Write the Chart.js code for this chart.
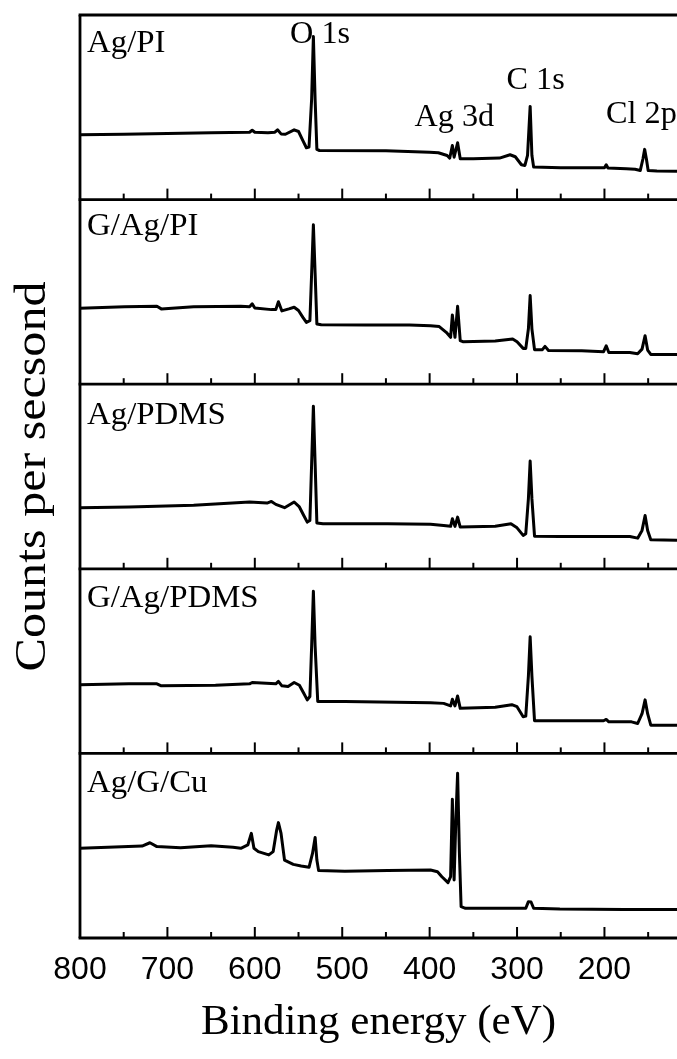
<!DOCTYPE html>
<html>
<head>
<meta charset="utf-8">
<title>XPS survey spectra</title>
<script src="https://cdn.jsdelivr.net/npm/chart.js@4.4.0/dist/chart.umd.min.js"></script>
<style>
  html, body { margin: 0; padding: 0; background: #fff; }
  #wrap { position: relative; width: 677px; height: 1059px; }
</style>
</head>
<body>
<div id="wrap"><canvas id="xpsChart" width="677" height="1059"></canvas></div>
<script>
// panels from top to bottom
const panelNames = ['Ag/PI', 'G/Ag/PI', 'Ag/PDMS', 'G/Ag/PDMS', 'Ag/G/Cu'];
const panelLabelLevels = [80, 80.6, 78.7, 79.2, 79.2];

// x axis (binding energy, eV)
const tickLabels = [800, 700, 600, 500, 400, 300, 200];
const minorTicks = [750, 650, 550, 450, 350, 250, 150];

// peak assignments written in the top panel
const peakNames = ['O 1s', 'Ag 3d', 'C 1s', 'Cl 2p'];
const peakNameEnergy = [559.7, 417.3, 312, 198.2];
const peakNameLevel = [85, 39.8, 60, 41.4];

// spectra, counts in panel units (0 = panel bottom, 100 = panel top)
const agPiEnergy = [800, 750, 700, 650, 606, 603, 600, 585, 577, 574, 570, 565, 555, 550, 545, 541, 538, 535, 533, 531, 529, 526, 450, 400, 390, 380, 377, 374, 372, 368, 365, 350, 320, 308, 302, 295, 291, 288, 285, 283, 281, 250, 200, 198, 196, 175, 165, 159, 156, 154, 152, 150, 140, 117];
const agPiCounts = [35.1, 35.4, 35.8, 36.2, 36.5, 37.6, 36.5, 36.2, 36.5, 37.8, 35.6, 35.4, 37.8, 36.9, 32, 28.1, 28.5, 54.5, 88.3, 54, 27.2, 26.6, 26.4, 25.7, 25.4, 23.9, 22.5, 29.3, 23, 30.8, 22.1, 22.1, 22.5, 24.3, 23.2, 18.9, 18.5, 24, 50.5, 24, 17.6, 17.3, 17.3, 18.9, 17.1, 16.7, 16.4, 15.8, 22, 27.2, 22, 15.8, 15.5, 15.3];

const gAgPiEnergy = [800, 749, 712, 707, 670, 616, 606, 603, 600, 581, 576, 573, 569, 561, 555, 550, 545, 541, 537, 535, 533, 531, 529, 524, 473, 423, 399, 389, 381, 376, 374, 371, 368, 365, 362, 325, 305, 300, 293, 290, 287, 285, 283, 280, 271, 268, 264, 226, 201, 198, 195, 171, 162, 157, 153.5, 150.6, 147, 117];
const gAgPiCounts = [41.1, 42.0, 42.2, 40.8, 42.0, 42.2, 42.0, 43.5, 41.3, 40.4, 40.4, 44.7, 39.7, 40.8, 41.7, 39.9, 36.2, 33.5, 34.4, 60, 86.4, 60, 32.6, 32.2, 32.1, 32.1, 31.7, 31.2, 28.1, 25.4, 37.5, 25.4, 42.2, 23.6, 23.0, 23.4, 24.5, 23.0, 19.4, 19.4, 30, 48.0, 30, 18.7, 18.7, 20.5, 18.3, 18.1, 17.6, 20.8, 17.2, 17.2, 16.5, 19, 26.3, 18.5, 16.1, 16.1];

const agPdmsEnergy = [800, 744, 670, 606, 586, 581, 576, 566, 555, 549, 544, 540, 537, 535, 533, 531, 529, 522, 448, 399, 384, 376, 374, 371, 368, 365, 325, 307, 300, 293, 290, 287, 285, 283, 280, 251, 201, 171, 162, 157, 153.5, 150.6, 147, 117];
const agPdmsCounts = [33.1, 33.5, 34.4, 36.2, 35.6, 36.5, 34.9, 33.1, 36.2, 33.5, 28.9, 25.3, 26.2, 57, 88.1, 57, 24.8, 24.4, 24.4, 24.1, 23.5, 23.0, 27.1, 23.0, 28.0, 22.6, 23.0, 24.4, 22.2, 18.1, 19.0, 38, 58.4, 38, 17.7, 17.5, 17.5, 17.5, 16.6, 20.8, 28.9, 20.8, 15.7, 15.4];

const gAgPdmsEnergy = [800, 744, 712, 707, 645, 606, 603, 576, 573, 569, 562, 555, 549, 544, 540, 537, 535, 533, 531, 528, 497, 399, 384, 376, 374, 371, 368, 365, 325, 306, 300, 293, 290, 287, 285, 283, 280, 251, 201, 198, 195, 169, 162, 157, 153.5, 150.6, 147, 117];
const gAgPdmsCounts = [37.2, 37.7, 37.7, 36.6, 36.9, 37.7, 38.4, 37.7, 39.0, 36.6, 36.2, 38.4, 36.9, 32.6, 29.0, 30.8, 58, 87.8, 58, 28.1, 28.1, 27.5, 27.1, 25.7, 29.3, 25.7, 31.1, 24.4, 25.0, 26.4, 25.3, 19.9, 20.2, 42, 63.2, 42, 17.7, 17.7, 17.7, 18.4, 17.1, 17.1, 16.2, 21.5, 29.0, 21.5, 15.3, 15.3];

const agGCuEnergy = [800, 768, 729, 720, 712, 685, 650, 625, 616, 608, 604, 601, 596, 584, 579, 575, 573, 570, 566, 556, 547, 538, 534, 531, 529, 527, 497, 448, 399, 391, 386, 379, 376, 374, 372, 370, 368, 366, 364, 359, 300, 290, 287, 284, 281, 251, 177, 117];
const agGCuCounts = [48.6, 49.1, 49.8, 51.6, 49.5, 48.9, 50.0, 49.1, 48.6, 50.4, 56.7, 48.6, 46.8, 45.0, 46.8, 58.5, 62.5, 56.7, 42.2, 39.9, 39.0, 38.3, 45.8, 54.5, 42.2, 36.5, 36.1, 36.5, 36.8, 35.9, 33.2, 30.0, 33.2, 75.1, 31.4, 64, 89.2, 46.9, 17.0, 16.1, 16.1, 16.1, 19.7, 19.5, 16.1, 15.7, 15.5, 15.5];

const spectraEnergy = [agPiEnergy, gAgPiEnergy, agPdmsEnergy, gAgPdmsEnergy, agGCuEnergy];
const spectraCounts = [agPiCounts, gAgPiCounts, agPdmsCounts, gAgPdmsCounts, agGCuCounts];

const PANEL_SPAN = 100;
const panelOffset = (i) => (panelNames.length - 1 - i) * PANEL_SPAN;

const serif = '"Liberation Serif", "Times New Roman", serif';

const datasets = panelNames.map((name, i) => ({
  label: name,
  data: spectraEnergy[i].map((e, j) => ({ x: e, y: spectraCounts[i][j] + panelOffset(i) })),
  borderColor: '#000',
  borderWidth: 3,
  borderJoinStyle: 'round',
  pointRadius: 0,
  tension: 0,
  fill: false
}));

// text in the original figure is slightly stretched along its run
const drawStretched = (ctx, text, x, y, size, stretch) => {
  ctx.save();
  ctx.translate(x, y);
  ctx.scale(stretch, 1);
  ctx.font = size + 'px ' + serif;
  ctx.fillText(text, 0, 0);
  ctx.restore();
};

// frame, inward ticks and all the labels inside the plot
const framePlugin = {
  id: 'xpsFrame',
  afterDatasetsDraw(chart) {
    const { ctx, chartArea, scales: { x, y } } = chart;
    ctx.save();
    ctx.strokeStyle = '#000';
    ctx.fillStyle = '#000';

    ctx.lineWidth = 2;
    for (let i = 0; i < panelNames.length; i++) {
      const base = y.getPixelForValue(i * PANEL_SPAN);
      tickLabels.forEach(v => {
        const px = x.getPixelForValue(v);
        ctx.beginPath(); ctx.moveTo(px, base); ctx.lineTo(px, base - 11); ctx.stroke();
      });
      minorTicks.forEach(v => {
        const px = x.getPixelForValue(v);
        ctx.beginPath(); ctx.moveTo(px, base); ctx.lineTo(px, base - 6); ctx.stroke();
      });
    }

    ctx.lineWidth = 2.8;
    for (let i = 0; i <= panelNames.length; i++) {
      const py = y.getPixelForValue(i * PANEL_SPAN);
      ctx.beginPath(); ctx.moveTo(chartArea.left - 1.4, py); ctx.lineTo(chartArea.right, py); ctx.stroke();
    }
    ctx.beginPath(); ctx.moveTo(chartArea.left, chartArea.top); ctx.lineTo(chartArea.left, chartArea.bottom); ctx.stroke();

    ctx.textAlign = 'left';
    ctx.textBaseline = 'alphabetic';
    panelNames.forEach((name, i) => {
      drawStretched(ctx, name, chartArea.left + 7, y.getPixelForValue(panelLabelLevels[i] + panelOffset(i)), 31, 1.06);
    });
    peakNames.forEach((name, k) => {
      drawStretched(ctx, name, x.getPixelForValue(peakNameEnergy[k]), y.getPixelForValue(peakNameLevel[k] + panelOffset(0)), 31, 1.04);
    });

    ctx.translate(45, (chartArea.top + chartArea.bottom) / 2);
    ctx.rotate(-Math.PI / 2);
    ctx.textAlign = 'center';
    drawStretched(ctx, 'Counts per secsond', 0, 0, 44, 1.14);
    ctx.restore();
  }
};

new Chart(document.getElementById('xpsChart'), {
  type: 'line',
  data: { datasets },
  options: {
    responsive: false,
    animation: false,
    devicePixelRatio: 1,
    layout: { padding: { left: 80, top: 15, right: 0, bottom: 0 } },
    plugins: { legend: { display: false }, tooltip: { enabled: false } },
    scales: {
      x: {
        type: 'linear',
        reverse: true,
        min: 117,
        max: 800,
        afterBuildTicks: (scale) => { scale.ticks = tickLabels.map(v => ({ value: v })); },
        afterFit: (scale) => { scale.height = 121; },
        grid: { display: false, drawTicks: false },
        border: { display: false },
        ticks: {
          color: '#000',
          autoSkip: false,
          maxRotation: 0,
          padding: 13,
          font: { family: '"Liberation Sans", Arial, sans-serif', size: 32 }
        },
        title: {
          display: true,
          text: 'Binding energy (eV)',
          color: '#000',
          font: { family: serif, size: 43 },
          padding: { top: 0, bottom: 10 }
        }
      },
      y: { display: false, min: 0, max: 500 }
    }
  },
  plugins: [framePlugin]
});
</script>
</body>
</html>
